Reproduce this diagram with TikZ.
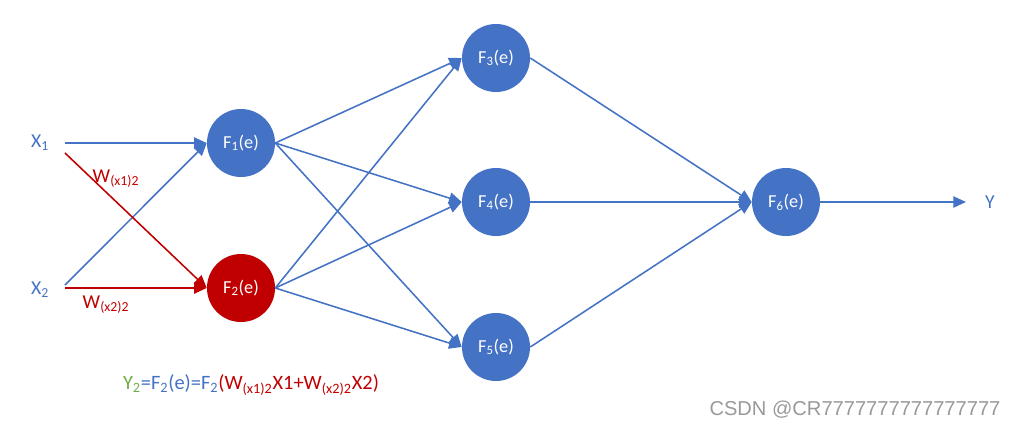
\documentclass[tikz,border=0pt]{standalone}
\usepackage{fontspec}
\setmainfont{Carlito}
\newfontfamily\markfont{Liberation Sans}
\usetikzlibrary{arrows.meta, positioning}
\definecolor{nnblue}{RGB}{68,114,196}
\definecolor{nnred}{RGB}{192,0,0}
\definecolor{nngreen}{RGB}{112,173,71}
\newcommand{\lowsub}[1]{\textsubscript{#1}}

\begin{document}
\begin{tikzpicture}[x=0.025cm, y=-0.025cm, >={Triangle[length=9pt, width=8pt]},
    neuron/.style={circle, fill=nnblue, minimum size=1.7cm, inner sep=0pt, text=white, font=\fontsize{13}{15}\selectfont},
    link/.style={nnblue, line width=1.1pt},
    wlink/.style={nnred, line width=1.1pt},
    inlabel/.style={text=nnblue, font=\fontsize{14}{16}\selectfont},
    wlabel/.style={text=nnred, font=\fontsize{14}{16}\selectfont} ]
    \useasboundingbox (0,0) rectangle (1021,428);
    % neurons
    \node[neuron] (f1) at (241,143) {F\lowsub{1}(e)};
    \node[neuron, fill=nnred] (f2) at (241,288) {F\lowsub{2}(e)};
    \node[neuron] (f3) at (496,58) {F\lowsub{3}(e)};
    \node[neuron] (f4) at (496,202) {F\lowsub{4}(e)};
    \node[neuron] (f5) at (496,347) {F\lowsub{5}(e)};
    \node[neuron] (f6) at (786,202) {F\lowsub{6}(e)};
    % inputs and output
    \node[inlabel] (x1) at (40,143) {X\lowsub{1}};
    \node[inlabel] (x2) at (40,290) {X\lowsub{2}};
    \node[inlabel] (y) at (990,202) {Y};
    \coordinate (x1a) at (65,143);
    \coordinate (x1b) at (65,153);
    \coordinate (x2a) at (65,285);
    \coordinate (x2b) at (65,288);
    \coordinate (yin) at (966,202);
    % input weights
    \draw[link, ->] (x1a) -- (f1.west);
    \draw[link, ->] (x2a) -- (f1.west);
    \draw[wlink, ->] (x1b) -- (f2.west);
    \draw[wlink, ->] (x2b) -- (f2.west);
    \node[wlabel] (w1) at (116,179) {W\lowsub{(x1)2}};
    \node[wlabel] (w2) at (106,305) {W\lowsub{(x2)2}};
    % hidden layer
    \foreach \src in {f1,f2} {
        \foreach \dst in {f3,f4,f5} {
            \draw[link, ->] (\src.east) -- (\dst.west);
        }
    }
    \foreach \src in {f3,f4,f5} {
        \draw[link, ->] (\src.east) -- (f6.west);
    }
    \draw[link, ->] (f6.east) -- (yin);
    % formula
    \node[font=\fontsize{14.5}{16}\selectfont] (eq) at (251,385) {\textcolor{nngreen}{Y\lowsub{2}}\textcolor{nnblue}{=F\lowsub{2}(e)=F\lowsub{2}}\textcolor{nnred}{(W\lowsub{(x1)2}X1+W\lowsub{(x2)2}X2)}};
    \node[font=\markfont\fontsize{14.3}{16}\selectfont, text=black!40] (mark) at (855,410) {CSDN @CR7777777777777777};
\end{tikzpicture}
\end{document}
